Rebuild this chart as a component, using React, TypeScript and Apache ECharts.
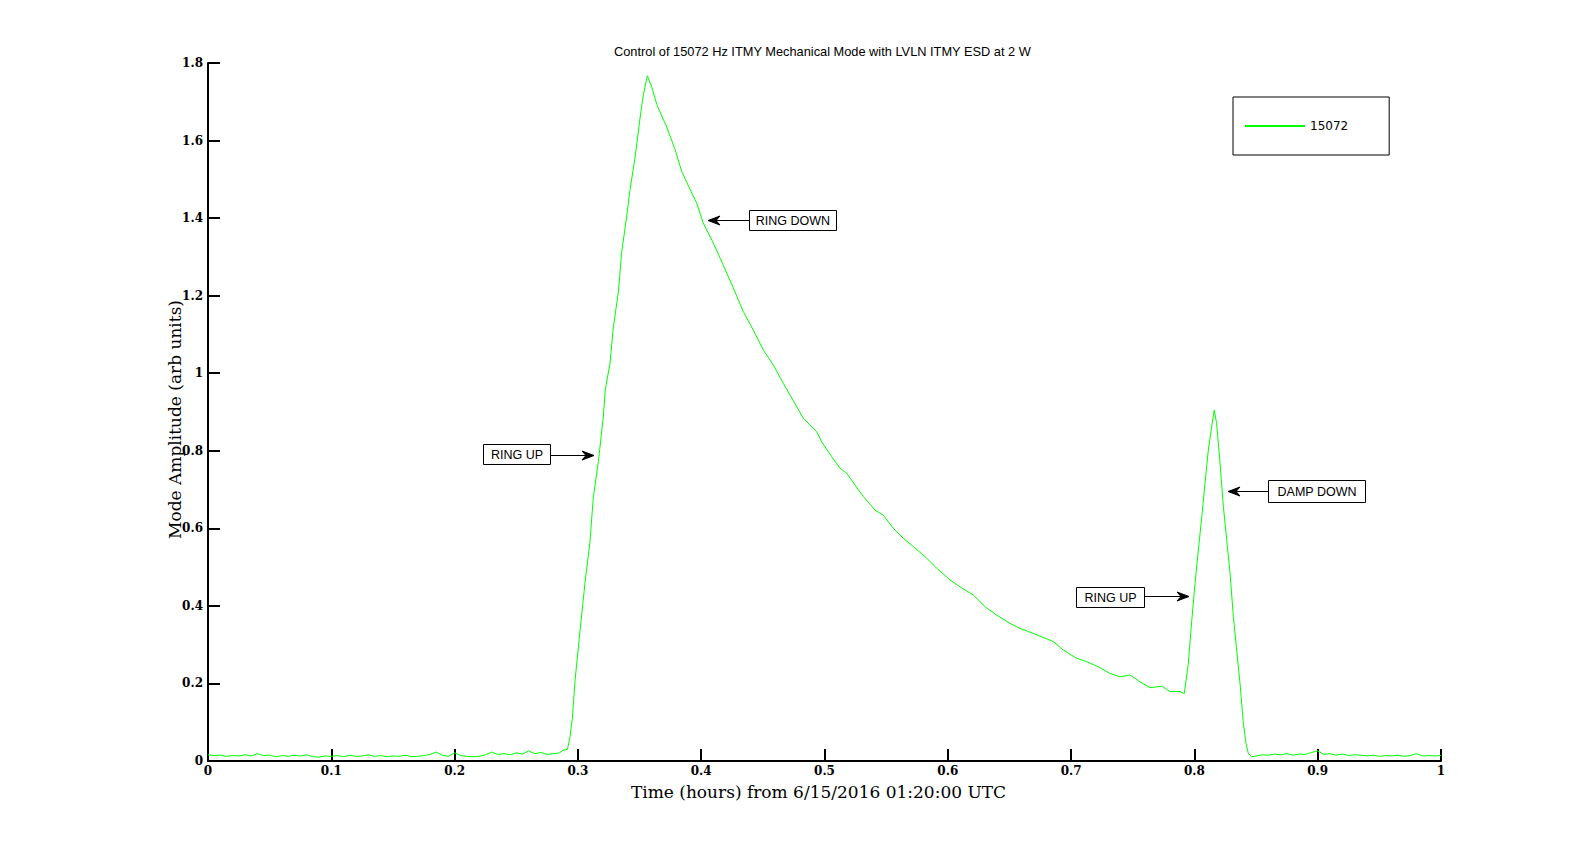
import React, { useEffect, useRef } from "react";
import * as echarts from "echarts";

const titleText = "Control of 15072 Hz ITMY Mechanical Mode with LVLN ITMY ESD at 2 W";
const xAxisTitle = "Time (hours) from 6/15/2016 01:20:00 UTC";
const yAxisTitle = "Mode Amplitude (arb units)";
const seriesName = "15072";

const timeHours: number[] = [
  0.0, 0.005, 0.01, 0.015, 0.02, 0.025, 0.03, 0.035, 0.04, 0.045, 0.05, 0.055, 0.06, 0.065, 0.07,
  0.075, 0.08, 0.085, 0.09, 0.095, 0.1, 0.105, 0.11, 0.115, 0.12, 0.125, 0.13, 0.135, 0.14, 0.145,
  0.15, 0.155, 0.16, 0.165, 0.17, 0.175, 0.18, 0.185, 0.19, 0.195, 0.2, 0.205, 0.21, 0.215, 0.22,
  0.225, 0.23, 0.235, 0.24, 0.245, 0.25, 0.255, 0.26, 0.265, 0.27, 0.275, 0.28, 0.285, 0.288,
  0.2915, 0.2935, 0.2955, 0.2977, 0.3017, 0.3058, 0.3098, 0.3125, 0.3166, 0.3206, 0.3222, 0.326,
  0.3287, 0.3328, 0.3355, 0.3396, 0.3423, 0.3463, 0.3504, 0.353, 0.3563,
  0.3598, 0.364, 0.372, 0.3788, 0.3842, 0.391, 0.3963, 0.4017, 0.4098, 0.418, 0.426, 0.434, 0.4423,
  0.4504, 0.4585, 0.4666, 0.476, 0.4828, 0.4937, 0.4977, 0.5058, 0.5126, 0.518, 0.5247, 0.5315,
  0.541, 0.5477, 0.5558, 0.564, 0.572, 0.5829, 0.591, 0.6018, 0.6099, 0.6207, 0.6302, 0.6397,
  0.6504, 0.6586, 0.6693, 0.6856, 0.6937, 0.7045, 0.7127, 0.722, 0.7315, 0.7397, 0.7478, 0.7559,
  0.764, 0.7735, 0.7802, 0.7883, 0.7918,
  0.795, 0.7978, 0.8005, 0.8032, 0.806, 0.8086, 0.8113, 0.814, 0.8161, 0.818, 0.8208, 0.8235,
  0.8262, 0.8289, 0.8316, 0.8343, 0.837, 0.8397, 0.8418, 0.8437, 0.8464,
  0.85, 0.855, 0.86, 0.865, 0.87, 0.875, 0.88, 0.885, 0.89, 0.895, 0.9, 0.905, 0.91, 0.915, 0.92,
  0.925, 0.93, 0.935, 0.94, 0.945, 0.95, 0.955, 0.96, 0.965, 0.97, 0.975, 0.98, 0.985, 0.99, 0.995,
  1.0,
];

const amplitude: number[] = [
  0.016, 0.014, 0.015, 0.012, 0.014, 0.013, 0.016, 0.013, 0.019, 0.014, 0.015, 0.011, 0.014, 0.012,
  0.015, 0.013, 0.016, 0.011, 0.01, 0.013, 0.012, 0.014, 0.011, 0.015, 0.012, 0.013, 0.016, 0.012,
  0.014, 0.011, 0.013, 0.012, 0.015, 0.011, 0.012, 0.014, 0.017, 0.023, 0.015, 0.012, 0.021, 0.014,
  0.012, 0.011, 0.012, 0.016, 0.023, 0.017, 0.019, 0.016, 0.021, 0.018, 0.026, 0.019, 0.022, 0.017,
  0.019, 0.021, 0.028,
  0.03, 0.06, 0.11, 0.208, 0.335, 0.461, 0.565, 0.68, 0.772, 0.887, 0.957, 1.025, 1.117, 1.209,
  1.312, 1.405, 1.474, 1.555, 1.658, 1.716, 1.767,
  1.739, 1.693, 1.635, 1.577, 1.52, 1.474, 1.439, 1.387, 1.336, 1.278, 1.22, 1.16, 1.111, 1.06,
  1.021, 0.974, 0.922, 0.884, 0.849, 0.823, 0.785, 0.755, 0.742, 0.712, 0.682, 0.647, 0.634, 0.6,
  0.574, 0.553, 0.523, 0.497, 0.467, 0.449, 0.428, 0.398, 0.376, 0.355, 0.342, 0.329, 0.308, 0.286,
  0.265, 0.256, 0.243, 0.226, 0.217, 0.222, 0.204, 0.189, 0.193, 0.179, 0.179, 0.174,
  0.25, 0.36, 0.458, 0.544, 0.63, 0.716, 0.802, 0.862, 0.905, 0.871, 0.768, 0.656, 0.57, 0.484,
  0.372, 0.286, 0.2, 0.097, 0.046, 0.02, 0.011,
  0.013, 0.016, 0.015, 0.018, 0.016, 0.019, 0.015, 0.018, 0.017, 0.022, 0.026, 0.017, 0.019, 0.015,
  0.018, 0.014, 0.016, 0.015, 0.013, 0.015, 0.012, 0.014, 0.013, 0.015, 0.012, 0.014, 0.019, 0.013,
  0.014, 0.013, 0.014,
];

// annotation labels
const annotationLabels = ["RING UP", "RING DOWN", "RING UP", "DAMP DOWN"];

const GREEN = "#00ff00";

type Ann = { x: number; y: number; w: number; h: number; tipX: number; lineY: number; side: "right" | "left" };
const annLayout: Ann[] = [
  { x: 483, y: 444, w: 67, h: 20, tipX: 594, lineY: 455, side: "right" },
  { x: 749, y: 210, w: 87, h: 20, tipX: 708, lineY: 220, side: "left" },
  { x: 1076, y: 587, w: 68, h: 20, tipX: 1189, lineY: 596, side: "right" },
  { x: 1268, y: 480, w: 97, h: 22, tipX: 1228, lineY: 491, side: "left" },
];

function buildAnnotations() {
  const els: any[] = [];
  annLayout.forEach((a, i) => {
    els.push({
      type: "rect",
      shape: { x: a.x + 0.5, y: a.y + 0.5, width: a.w, height: a.h },
      style: { fill: "#fff", stroke: "#000", lineWidth: 1 },
    });
    els.push({
      type: "text",
      x: a.x + a.w / 2 + 0.5,
      y: a.y + a.h / 2 + 1,
      style: {
        text: annotationLabels[i],
        fontFamily: "Liberation Sans, Arial, sans-serif",
        fontSize: 12.5,
        fill: "#000",
        align: "center",
        verticalAlign: "middle",
      },
    });
    const startX = a.side === "right" ? a.x + a.w : a.x;
    const dir = a.side === "right" ? 1 : -1;
    els.push({
      type: "line",
      shape: { x1: startX + 0.5, y1: a.lineY + 0.5, x2: a.tipX - dir * 6, y2: a.lineY + 0.5 },
      style: { stroke: "#000", lineWidth: 1 },
    });
    const t = a.tipX;
    const yy = a.lineY + 0.5;
    els.push({
      type: "polygon",
      shape: {
        points: [
          [t, yy],
          [t - dir * 12, yy - 4.5],
          [t - dir * 8, yy],
          [t - dir * 12, yy + 4.5],
        ],
      },
      style: { fill: "#000", stroke: "#000", lineWidth: 1 },
    });
  });
  return els;
}

export default function App() {
  const ref = useRef<HTMLDivElement>(null);
  useEffect(() => {
    if (!ref.current) return;
    const chart = echarts.init(ref.current, null, { renderer: "svg" });
    const data = timeHours.map((t, i) => [t, amplitude[i]]);
    const tickFont = {
      fontFamily: "DejaVu Serif, serif",
      fontWeight: "bold" as const,
      fontSize: 12,
      color: "#000",
    };
    chart.setOption({
      animation: false,
      backgroundColor: "#fff",
      title: {
        text: titleText,
        left: 614,
        top: 45,
        padding: 0,
        textStyle: {
          fontFamily: "Liberation Sans, Arial, sans-serif",
          fontSize: 12.8,
          fontWeight: "normal",
          color: "#000",
        },
      },
      legend: {
        data: [seriesName],
        left: 1233,
        top: 97,
        orient: "vertical",
        backgroundColor: "#fff",
        borderColor: "#000",
        borderWidth: 1,
        borderRadius: 0,
        padding: [22, 41, 22, 12],
        itemWidth: 60,
        itemHeight: 2,
        itemGap: 0,
        icon: "rect",
        textStyle: {
          fontFamily: "DejaVu Sans, sans-serif",
          fontSize: 12,
          color: "#000",
          lineHeight: 14,
        },
      },
      grid: { left: 208, right: 151, top: 63, bottom: 95, containLabel: false },
      xAxis: {
        type: "value",
        min: 0,
        max: 1,
        interval: 0.1,
        name: xAxisTitle,
        nameLocation: "middle",
        nameGap: 22,
        nameTextStyle: {
          fontFamily: "DejaVu Serif, serif",
          fontSize: 17,
          color: "#000",
          padding: [0, 12, 0, 0],
        },
        axisLine: { show: true, onZero: false, lineStyle: { color: "#000", width: 2 } },
        axisTick: { show: true, inside: true, length: 12, lineStyle: { color: "#000", width: 2 } },
        axisLabel: { ...tickFont, margin: 4 },
        splitLine: { show: false },
      },
      yAxis: {
        type: "value",
        min: 0,
        max: 1.8,
        interval: 0.2,
        name: yAxisTitle,
        nameLocation: "middle",
        nameGap: 25,
        nameMoveOverlap: false,
        nameTextStyle: {
          fontFamily: "DejaVu Serif, serif",
          fontSize: 17,
          color: "#000",
          padding: [0, 15, 0, 0],
        },
        axisLine: { show: true, lineStyle: { color: "#000", width: 2 } },
        axisTick: { show: true, inside: true, length: 12, lineStyle: { color: "#000", width: 2 } },
        axisLabel: { ...tickFont, margin: 5 },
        splitLine: { show: false },
      },
      series: [
        {
          name: seriesName,
          type: "line",
          data,
          symbol: "none",
          showSymbol: false,
          color: GREEN,
          lineStyle: { color: GREEN, width: 1 },
          z: 3,
        },
      ],
      graphic: buildAnnotations(),
    });
    return () => chart.dispose();
  }, []);
  return (
    <div
      ref={ref}
      style={{ position: "fixed", left: 0, top: 0, width: 1592, height: 856, background: "#fff" }}
    />
  );
}
